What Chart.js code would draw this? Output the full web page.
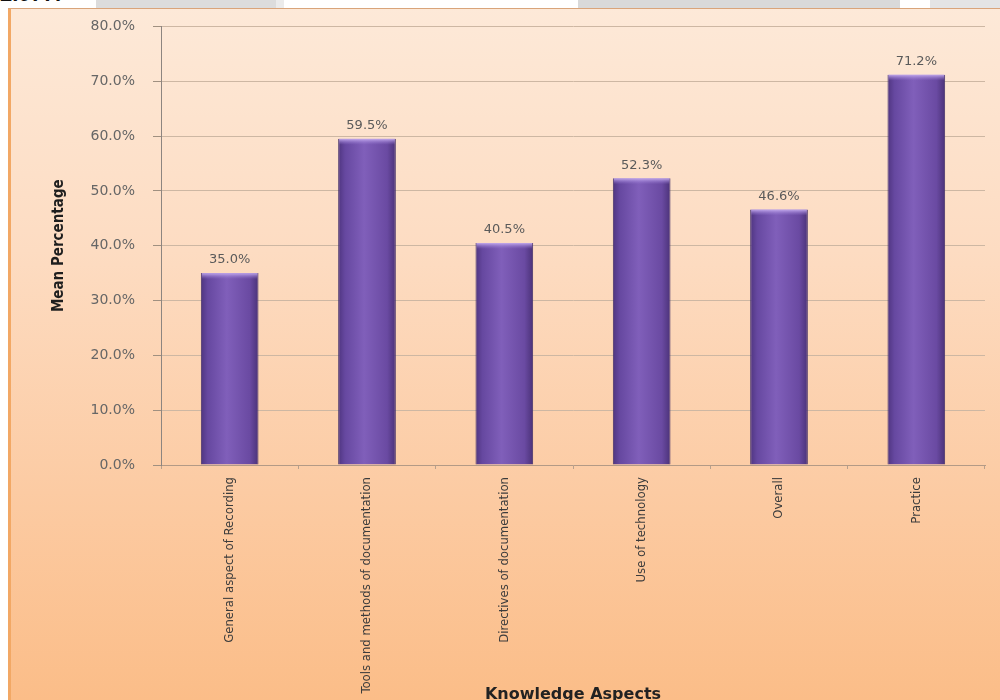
<!DOCTYPE html>
<html>
<head>
<meta charset="utf-8">
<script src="https://cdn.jsdelivr.net/npm/chart.js@4.4.1/dist/chart.umd.min.js"></script>
<style>
  html, body { margin: 0; padding: 0; background: #ffffff; width: 1000px; height: 700px; overflow: hidden; }
  #strip { position: absolute; left: 0; top: 0; width: 1000px; height: 8px; overflow: hidden; background: #ffffff; }
  #band1 { position: absolute; left: 96px; top: 0; width: 180px; height: 8px; background: #dcdcdc; }
  #band1b { position: absolute; left: 276px; top: 0; width: 8px; height: 8px; background: #ebebeb; }
  #band2 { position: absolute; left: 578px; top: 0; width: 322px; height: 8px; background: #d9d9d9; }
  #band3 { position: absolute; left: 930px; top: 0; width: 70px; height: 8px; background: #e4e4e4; }
  #cut { position: absolute; left: 0; top: -19px; font: bold 22px "Liberation Sans", sans-serif; color: #111; }
  #frame { position: absolute; left: 8px; top: 8px; width: 992px; height: 692px; overflow: hidden;
           background: linear-gradient(to bottom, #fde9d8 0%, #fddcc2 35%, #fccba3 70%, #fbbd88 100%);
           box-shadow: inset 0 1px 0 #d9a47a, inset 3px 0 0 #f2a865; }
  #c { position: absolute; left: 0; top: -8px; }
</style>
</head>
<body>
<div id="strip"><div id="band1"></div><div id="band1b"></div><div id="band2"></div><div id="band3"></div><span id="cut">2.077.</span></div>
<div id="frame"><canvas id="c" width="992" height="708"></canvas></div>
<script>
const categories = [
  "General aspect of Recording",
  "Tools and methods of documentation",
  "Directives of documentation",
  "Use of technology",
  "Overall",
  "Practice"
];
const meanPercentage = [35.0, 59.5, 40.5, 52.3, 46.6, 71.2];
const yTickValues = [0, 10, 20, 30, 40, 50, 60, 70, 80];
const yAxisTitle = "Mean Percentage";
const xAxisTitle = "Knowledge Aspects";

const BAR_PCT = 0.42;
const tickFont = { family: '"DejaVu Sans", Verdana, sans-serif', size: 14 };
const narrowFamily = '"Liberation Sans Narrow", "DejaVu Sans Condensed", "Arial Narrow", sans-serif';

function barFill(ctx) {
  const chart = ctx.chart;
  const xs = chart.scales && chart.scales.x;
  if (!xs || !chart.chartArea || ctx.dataIndex === undefined) return '#7454aa';
  const cx = xs.getPixelForValue(ctx.dataIndex);
  const w = (xs.width / categories.length) * BAR_PCT;
  if (!isFinite(cx) || !isFinite(w)) return '#7454aa';
  const g = chart.ctx.createLinearGradient(cx - w / 2, 0, cx + w / 2, 0);
  g.addColorStop(0, '#4f3580');
  g.addColorStop(0.12, '#6648a0');
  g.addColorStop(0.45, '#805fba');
  g.addColorStop(0.85, '#6a4aa2');
  g.addColorStop(1, '#4b3278');
  return g;
}

const decorPlugin = {
  id: 'decor',
  afterDatasetsDraw(chart) {
    const c = chart.ctx;
    const meta = chart.getDatasetMeta(0);
    c.save();
    meta.data.forEach((bar, i) => {
      const w = bar.width;
      const x0 = bar.x - w / 2;
      const g = c.createLinearGradient(0, bar.y, 0, bar.y + 6);
      g.addColorStop(0, 'rgba(200,175,240,0.95)');
      g.addColorStop(1, 'rgba(150,120,210,0)');
      c.fillStyle = g;
      c.fillRect(x0 + 1, bar.y, w - 2, 6);
      c.fillStyle = '#5a5a5a';
      c.font = '13px "DejaVu Sans", Verdana, sans-serif';
      c.textAlign = 'center';
      c.textBaseline = 'middle';
      c.fillText(meanPercentage[i].toFixed(1) + '%', bar.x, bar.y - 13);
    });
    c.restore();
  }
};

new Chart(document.getElementById('c'), {
  type: 'bar',
  data: {
    labels: categories,
    datasets: [{
      data: meanPercentage,
      backgroundColor: barFill,
      borderColor: '#43306a',
      borderWidth: { left: 1, right: 1, top: 0, bottom: 0 },
      borderSkipped: false,
      barPercentage: BAR_PCT,
      categoryPercentage: 1.0
    }]
  },
  options: {
    responsive: false,
    animation: false,
    layout: { padding: { top: 10, right: 15, left: 0, bottom: 0 } },
    plugins: { legend: { display: false }, tooltip: { enabled: false } },
    scales: {
      x: {
        offset: true,
        grid: { display: true, drawOnChartArea: false, drawTicks: true, tickLength: 4, color: '#b8a08c', offset: true },
        border: { display: true, color: '#b39a86', width: 1 },
        ticks: {
          minRotation: 90, maxRotation: 90, autoSkip: false, padding: 8,
          color: '#3c3c3c',
          font: { family: narrowFamily, size: 13 }
        },
        title: {
          display: true, text: xAxisTitle, color: '#222222',
          font: { family: '"DejaVu Sans", Verdana, sans-serif', size: 16, weight: 'bold' },
          padding: { top: 0, bottom: 4 }
        },
        afterFit(scale) { scale.height = 243; }
      },
      y: {
        min: 0, max: 80,
        afterBuildTicks(scale) { scale.ticks = yTickValues.map(v => ({ value: v })); },
        grid: { color: '#cdb7a3', lineWidth: 1, tickLength: 8, drawTicks: true, tickColor: '#a09080' },
        border: { display: true, color: '#8d8580', width: 1 },
        ticks: {
          padding: 18,
          color: '#666666',
          font: tickFont,
          callback: (v) => Number(v).toFixed(1) + '%'
        },
        title: {
          display: true, text: yAxisTitle, color: '#1e1e1e',
          font: { family: narrowFamily, size: 15, weight: 'bold' },
          padding: { top: 42, bottom: 0 }
        },
        afterFit(scale) { scale.width = 153; }
      }
    }
  },
  plugins: [decorPlugin]
});
</script>
</body>
</html>
